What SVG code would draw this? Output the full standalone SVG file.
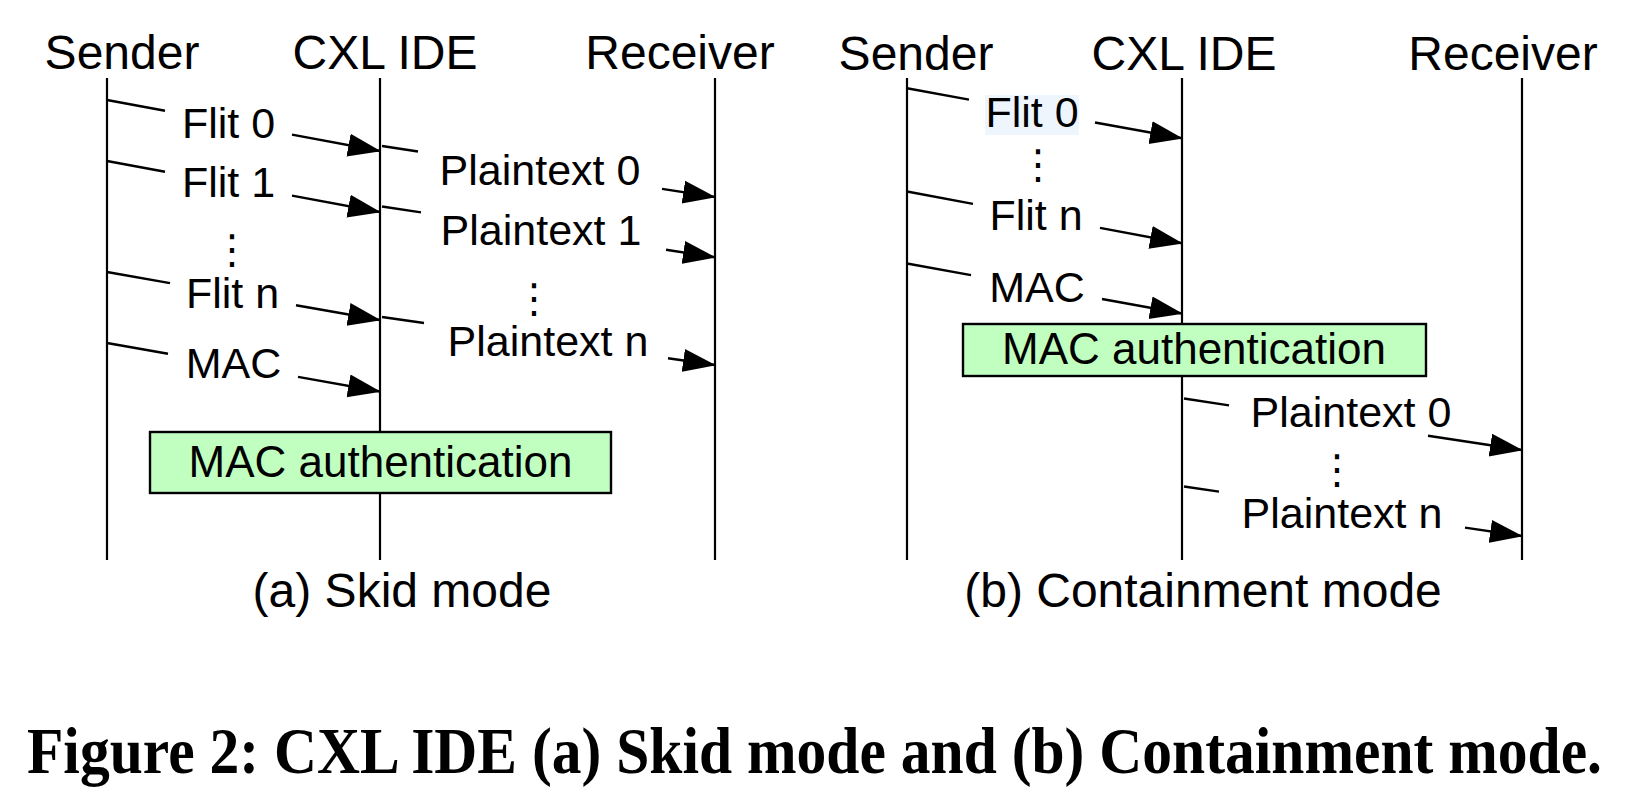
<svg xmlns="http://www.w3.org/2000/svg" width="1638" height="791" viewBox="0 0 1638 791">
<style>
.life{stroke:#000;stroke-width:2.2;fill:none}
.msg{stroke:#000;stroke-width:2.4;fill:none;marker-end:url(#ah)}
.hdr{font-family:"Liberation Sans",Arial,sans-serif;font-size:48px;fill:#000;text-anchor:middle}
.lbl{font-family:"Liberation Sans",Arial,sans-serif;font-size:43px;fill:#000;text-anchor:middle}
.dots{font-family:"DejaVu Sans",sans-serif;font-size:40px;fill:#000;text-anchor:middle}
.box{fill:#C0FFC0;stroke:#000;stroke-width:2.4}
.sub{font-family:"Liberation Sans",Arial,sans-serif;font-size:48px;fill:#000;text-anchor:middle}
.cap{font-family:"Liberation Serif","Times New Roman",serif;font-weight:bold;font-size:59px;fill:#000}
</style>
<defs>
<marker id="ah" markerUnits="userSpaceOnUse" markerWidth="33" markerHeight="25" viewBox="0 0 33 25" refX="32" refY="12.5" orient="auto">
<path d="M0,1 L33,12.5 L0,24 z" fill="#000"/>
</marker>
</defs>
<rect width="1638" height="791" fill="#fff"/>

<g id="panel-a">
<g id="a-sender"><text class="hdr" x="122" y="69">Sender</text><line class="life" x1="107" y1="78" x2="107" y2="560"/></g>
<g id="a-ide"><text class="hdr" x="385" y="69">CXL IDE</text><line class="life" x1="380" y1="78" x2="380" y2="560"/></g>
<g id="a-receiver"><text class="hdr" x="680" y="69">Receiver</text><line class="life" x1="715" y1="78" x2="715" y2="560"/></g>
<g id="a-macauth"><rect class="box" x="150" y="432" width="461" height="61"/><text class="lbl" x="380.5" y="477" style="font-size:44px">MAC authentication</text></g>
<g id="a-labels">
<text class="lbl" x="228.5" y="138">Flit 0</text>
<text class="lbl" x="228.5" y="197">Flit 1</text>
<text class="dots" x="232" y="263">⋮</text>
<text class="lbl" x="232.5" y="308">Flit n</text>
<text class="lbl" x="233.5" y="378">MAC</text>
<text class="lbl" x="540" y="185">Plaintext 0</text>
<text class="lbl" x="541" y="245">Plaintext 1</text>
<text class="dots" x="534" y="312">⋮</text>
<text class="lbl" x="548" y="356">Plaintext n</text>
</g>
<text id="a-caption" class="sub" x="402" y="607">(a) Skid mode</text>
</g>

<g id="panel-b">
<g id="b-sender"><text class="hdr" x="916" y="70">Sender</text><line class="life" x1="907" y1="78" x2="907" y2="560"/></g>
<g id="b-ide"><text class="hdr" x="1184" y="70">CXL IDE</text><line class="life" x1="1182" y1="78" x2="1182" y2="560"/></g>
<g id="b-receiver"><text class="hdr" x="1503" y="70">Receiver</text><line class="life" x1="1522" y1="78" x2="1522" y2="560"/></g>
<g id="b-macauth"><rect class="box" x="963" y="324" width="463" height="52"/><text class="lbl" x="1194" y="364" style="font-size:44px">MAC authentication</text></g>
<g id="b-labels">
<rect x="985" y="95" width="94" height="40" fill="#EFF5FC"/>
<text class="lbl" x="1032" y="127">Flit 0</text>
<text class="dots" x="1038" y="178">⋮</text>
<text class="lbl" x="1036" y="230">Flit n</text>
<text class="lbl" x="1037" y="302">MAC</text>
<text class="lbl" x="1351" y="427">Plaintext 0</text>
<text class="dots" x="1337" y="483">⋮</text>
<text class="lbl" x="1342" y="528">Plaintext n</text>
</g>
<text id="b-caption" class="sub" x="1203" y="607">(b) Containment mode</text>
</g>

<g id="connectors">
<path class="msg" d="M107,100 L165,110.8 M292,134.6 L380,151"/>
<path class="msg" d="M107,161 L165,171.8 M292,195.6 L380,212"/>
<path class="msg" d="M107,272 L170,283.1 M296,305.2 L380,320"/>
<path class="msg" d="M107,343 L168,353.8 M298,376.9 L380,391.5"/>
<path class="msg" d="M382,146 L418,151.5 M662,188.9 L715,197"/>
<path class="msg" d="M382,206.5 L421,212.4 M666,249.8 L715,257.3"/>
<path class="msg" d="M382,317 L424,323 M668,358.2 L715,365"/>
<path class="msg" d="M907,88.3 L969,99.6 M1095,122.5 L1182,138.3"/>
<path class="msg" d="M907,191.5 L973,203.9 M1100,227.9 L1182,243.3"/>
<path class="msg" d="M907,263.5 L971,275.1 M1102,299 L1182,313.5"/>
<path class="msg" d="M1184,398.5 L1229,405.4 M1428,435.7 L1522,450"/>
<path class="msg" d="M1184,486.5 L1219,491.6 M1465,527.6 L1522,536"/>
</g>

<text id="figure-caption" class="cap" transform="translate(27,773) scale(1,1.12)" x="0" y="0" textLength="1575" lengthAdjust="spacingAndGlyphs">Figure 2: CXL IDE (a) Skid mode and (b) Containment mode.</text>
</svg>
